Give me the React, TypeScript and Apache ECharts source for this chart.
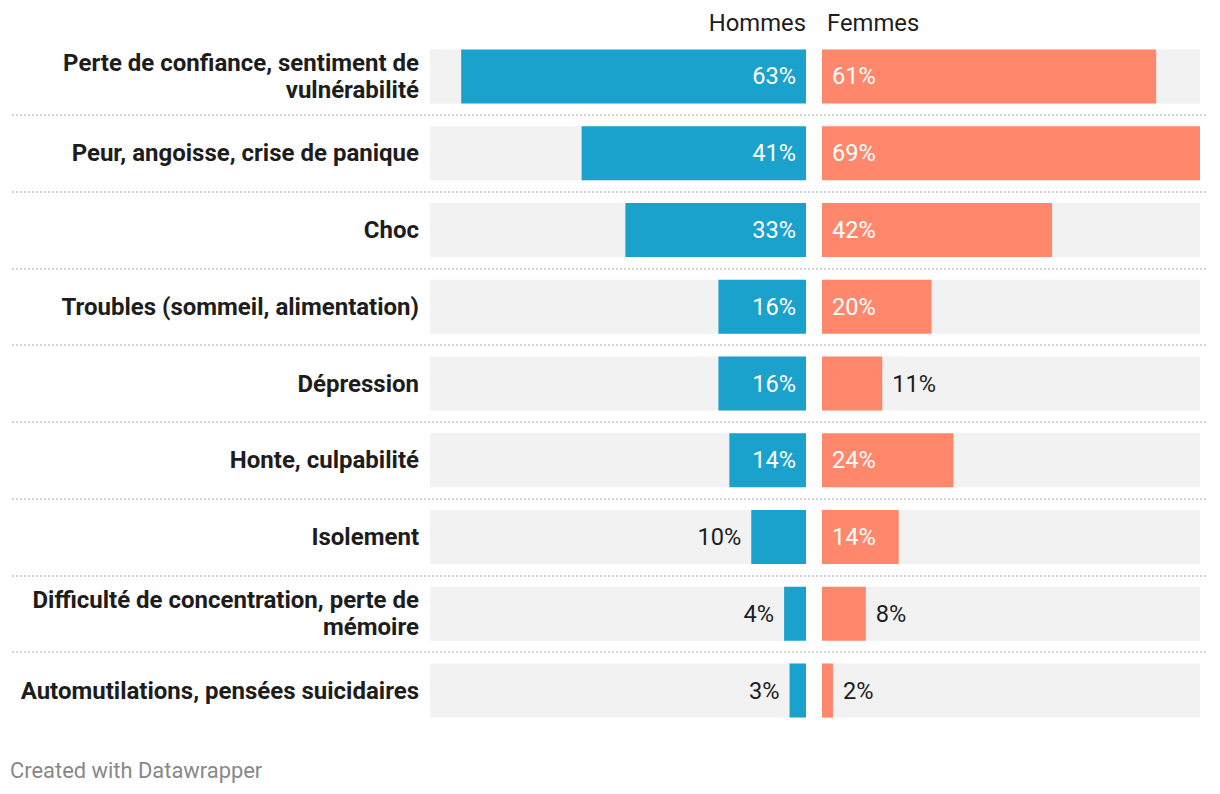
import React, { useEffect, useRef } from "react";
import * as echarts from "echarts";

const categories = [
  "Perte de confiance, sentiment de\nvulnérabilité",
  "Peur, angoisse, crise de panique",
  "Choc",
  "Troubles (sommeil, alimentation)",
  "Dépression",
  "Honte, culpabilité",
  "Isolement",
  "Difficulté de concentration, perte de\nmémoire",
  "Automutilations, pensées suicidaires",
];
const hommes = [63, 41, 33, 16, 16, 14, 10, 4, 3];
const femmes = [61, 69, 42, 20, 11, 24, 14, 8, 2];
const headers = ["Hommes", "Femmes"];
const footer = "Created with Datawrapper";

const BLUE = "#1aa1cc";
const SALMON = "#ff876c";
const BG = "#f2f2f2";
const FONT = "Roboto";

export default function App() {
  const ref = useRef<HTMLDivElement>(null);
  useEffect(() => {
    document.body.style.margin = "0";
    const chart = echarts.init(ref.current!, null, { renderer: "svg" });
    const top = 38.1;
    const height = 690.8;
    const threshold = 12;
    const labelBase = { fontFamily: FONT, fontSize: 23.6, distance: 10, formatter: "{c}%" };
    const leftData = hommes.map((v) => ({
      value: v,
      label: v >= threshold
        ? { ...labelBase, show: true, position: "insideRight", color: "#ffffff" }
        : { ...labelBase, show: true, position: "left", color: "#1d1d1d" },
    }));
    const rightData = femmes.map((v) => ({
      value: v,
      label: v >= threshold
        ? { ...labelBase, show: true, position: "insideLeft", color: "#ffffff" }
        : { ...labelBase, show: true, position: "right", color: "#1d1d1d" },
    }));
    chart.setOption({
      animation: false,
      backgroundColor: "#ffffff",
      textStyle: { fontFamily: FONT },
      grid: [
        { left: 430, width: 376, top, height },
        { left: 822, width: 378, top, height },
        { left: 12, width: 1196, top, height },
      ],
      xAxis: [
        { gridIndex: 0, type: "value", min: 0, max: 68.7, inverse: true, show: false },
        { gridIndex: 1, type: "value", min: 0, max: 69, show: false },
        { gridIndex: 2, type: "value", min: 0, max: 1, show: false },
      ],
      yAxis: [
        {
          gridIndex: 0,
          type: "category",
          data: categories,
          inverse: true,
          axisLine: { show: false, onZero: false },
          axisTick: { show: false },
          splitLine: { show: false },
          axisLabel: {
            margin: 11,
            fontFamily: FONT,
            fontSize: 24,
            fontWeight: "bold",
            color: "#1d1d1d",
            lineHeight: 27,
            align: "right",
          },
        },
        {
          gridIndex: 1,
          type: "category",
          data: categories,
          inverse: true,
          show: false,
        },
        {
          gridIndex: 2,
          type: "category",
          data: categories,
          inverse: true,
          axisLine: { show: false, onZero: false },
          axisTick: { show: false },
          axisLabel: { show: false },
          splitLine: {
            show: true,
            showMinLine: false,
            showMaxLine: false,
            lineStyle: { color: "#d4d4d4", width: 2, type: [2, 2] },
          },
        },
      ],
      series: [
        {
          type: "bar",
          name: "Hommes",
          xAxisIndex: 0,
          yAxisIndex: 0,
          data: leftData,
          barWidth: 54,
          itemStyle: { color: BLUE },
          showBackground: true,
          backgroundStyle: { color: BG },
          z: 3,
        },
        {
          type: "bar",
          name: "Femmes",
          xAxisIndex: 1,
          yAxisIndex: 1,
          data: rightData,
          barWidth: 54,
          itemStyle: { color: SALMON },
          showBackground: true,
          backgroundStyle: { color: BG },
          z: 3,
        },
      ],
      graphic: [
        {
          type: "text",
          x: 806,
          y: 23,
          style: {
            text: headers[0],
            fontFamily: FONT,
            fontSize: 23.8,
            fill: "#1d1d1d",
            align: "right",
            verticalAlign: "middle",
          },
        },
        {
          type: "text",
          x: 827,
          y: 23,
          style: {
            text: headers[1],
            fontFamily: FONT,
            fontSize: 23.8,
            fill: "#1d1d1d",
            align: "left",
            verticalAlign: "middle",
          },
        },
        {
          type: "text",
          x: 10,
          y: 770,
          style: {
            text: footer,
            fontFamily: FONT,
            fontSize: 21.9,
            fill: "#888888",
            align: "left",
            verticalAlign: "middle",
          },
        },
      ],
    });
    return () => chart.dispose();
  }, []);
  return <div ref={ref} style={{ width: 1220, height: 794 }} />;
}
